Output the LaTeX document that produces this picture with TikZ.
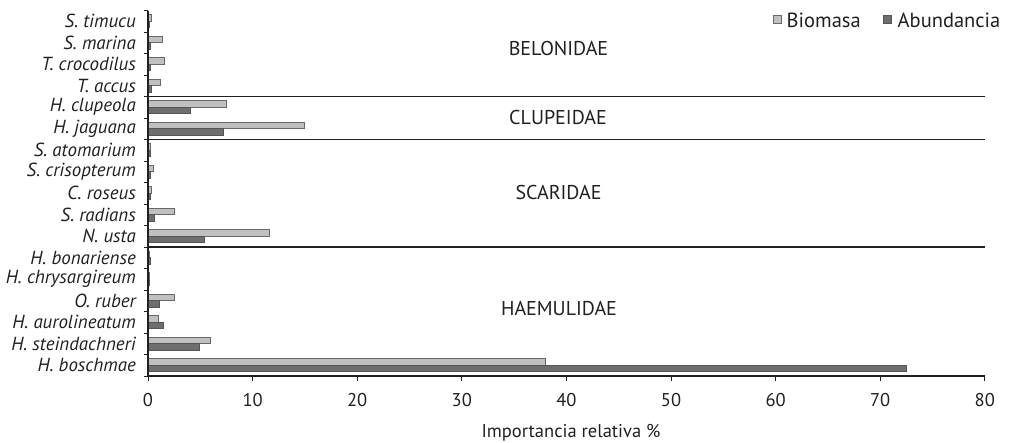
\documentclass[tikz,border=0pt]{standalone}
\usepackage{fontspec}
\setmainfont{PT Sans}
\definecolor{biofill}{RGB}{192,192,192}
\definecolor{bioedge}{RGB}{105,105,105}
\definecolor{abufill}{RGB}{110,110,110}
\definecolor{abuedge}{RGB}{85,85,85}
\definecolor{ink}{RGB}{35,31,32}
\tikzset{
  catlabel/.style={anchor=east,inner sep=0pt,font=\fontsize{18.9}{22}\selectfont\itshape,text=ink},
  famlabel/.style={inner sep=0pt,font=\fontsize{20}{23}\selectfont,text=ink},
  ticklabel/.style={inner sep=0pt,font=\fontsize{18.5}{22}\selectfont,text=ink},
  legendtext/.style={anchor=west,inner sep=0pt,font=\fontsize{20.5}{24}\selectfont,text=ink},
  biobar/.style={fill=biofill,draw=bioedge,line width=0.9pt},
  abubar/.style={fill=abufill,draw=abuedge,line width=0.9pt},
  axisline/.style={draw=ink,line width=1.2pt},
  sepline/.style={draw=ink,line width=1.5pt}
}
\begin{document}
\begin{tikzpicture}[x=1pt,y=-1pt]
\useasboundingbox (0,0) rectangle (1011,442);
% bars and category labels
\foreach \lab/\b/\a [count=\k from 0] in {
  S. timucu/0.3/0.15,
  S. marina/1.4/0.25,
  T. crocodilus/1.6/0.25,
  T. accus/1.2/0.3,
  H. clupeola/7.5/4.1,
  H. jaguana/15.0/7.2,
  S. atomarium/0.2/0.2,
  S. crisopterum/0.5/0.2,
  C. roseus/0.35/0.2,
  S. radians/2.5/0.6,
  N. usta/11.6/5.4,
  H. bonariense/0.1/0.2,
  H. chrysargireum/0.15/0.15,
  O. ruber/2.5/1.1,
  H. aurolineatum/1.0/1.45,
  H. steindachneri/5.95/4.9,
  H. boschmae/38.0/72.5}{
  \pgfmathsetmacro{\t}{10.5+21.5*\k}
  \pgfmathsetmacro{\xb}{148+10.46*\b}
  \pgfmathsetmacro{\xa}{148+10.46*\a}
  \path[biobar] (148,\t+4) rectangle (\xb,\t+10.6);
  \path[abubar] (148,\t+10.6) rectangle (\xa,\t+17.2);
  \node[catlabel] (lab\k) at (136,\t+10.75) {\lab};
}
% y axis ticks
\foreach \k in {0,...,17}{
  \pgfmathsetmacro{\t}{10.5+21.5*\k}
  \draw[axisline,line width=1pt] (143.5,\t) -- (148,\t);
}
% separators
\foreach \k in {4,6,11}{
  \pgfmathsetmacro{\t}{10.5+21.5*\k}
  \draw[sepline] (148,\t) -- (985,\t);
}
% axes
\coordinate (o) at (148,376);
\coordinate (ytop) at (148,10.5);
\coordinate (xend) at (985,376);
\draw[axisline] (ytop) -- (o) -- (xend);
\foreach \i in {0,...,8}{
  \pgfmathsetmacro{\xx}{148+104.6*\i}
  \pgfmathtruncatemacro{\v}{10*\i}
  \draw[axisline,line width=1pt] (\xx,376) -- (\xx,380.5);
  \node[ticklabel] (tick\i) at (\xx,400.5) {\v};
}
\node[ticklabel] (xtitle) at (571,433) {Importancia relativa \%};
% family labels
\node[famlabel] (fam1) at (558.5,48) {BELONIDAE};
\node[famlabel] (fam2) at (558,117.5) {CLUPEIDAE};
\node[famlabel] (fam3) at (558.5,192) {SCARIDAE};
\node[famlabel] (fam4) at (559,308.5) {HAEMULIDAE};
% legend
\path[biobar] (773.5,15.5) rectangle (781.5,23.5);
\node[legendtext] (legb) at (786.5,20) {Biomasa};
\path[abubar] (883.5,15.5) rectangle (891.5,23.5);
\node[legendtext] (lega) at (897.5,20) {Abundancia};
\end{tikzpicture}
\end{document}
